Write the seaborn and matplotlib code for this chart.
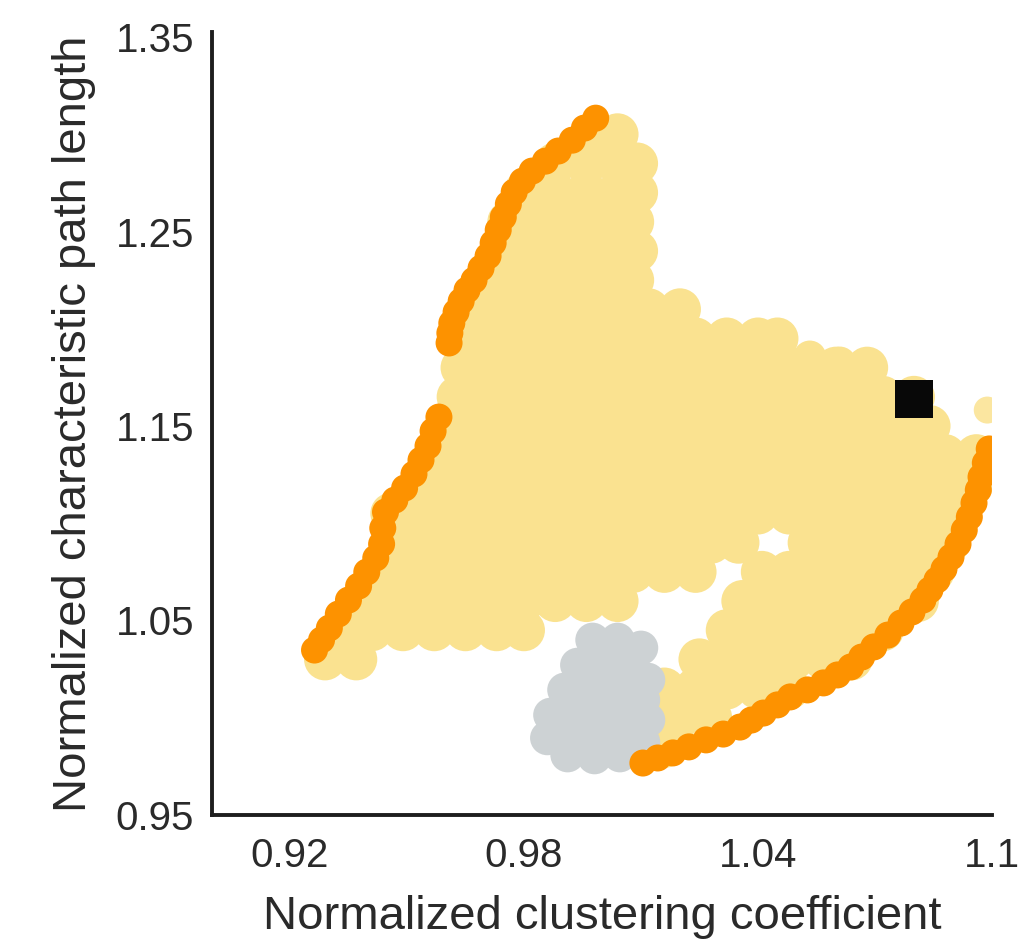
import matplotlib
matplotlib.use("Agg")
import matplotlib.pyplot as plt
import pandas as pd
import seaborn as sns

# ---- parameter-space cloud (normalized clustering coefficient, normalized path length) ----
# each row: path length value -> clustering coefficient values sampled on that row
cloud_rows = {
    0.985: [1.016],
    1.000: [1.020, 1.028],
    1.015: [1.016, 1.024, 1.032, 1.040, 1.048],
    1.030: [0.929, 0.937, 1.025, 1.033, 1.041, 1.049, 1.057, 1.064],
    1.045: [0.933, 0.941, 0.949, 0.957, 0.965, 0.973, 0.980,
            1.032, 1.040, 1.048, 1.056, 1.064, 1.072],
    1.060: [0.940, 0.948, 0.956, 0.964, 0.972, 0.980, 0.988, 0.996, 1.004,
            1.036, 1.044, 1.052, 1.060, 1.068, 1.076, 1.081],
    1.075: [0.944, 0.952, 0.960, 0.968, 0.976, 0.984, 0.992, 1.000, 1.008, 1.016, 1.024,
            1.041, 1.048, 1.056, 1.064, 1.072, 1.080, 1.085],
    1.090: [0.948, 0.956, 0.964, 0.972, 0.980, 0.988, 0.996, 1.004, 1.012, 1.020, 1.028, 1.035,
            1.053, 1.060, 1.068, 1.076, 1.084, 1.089],
    1.105: [0.946, 0.952, 0.960, 0.968, 0.976, 0.984, 0.992, 1.000, 1.008, 1.016, 1.024,
            1.032, 1.040, 1.048, 1.056, 1.064, 1.072, 1.080, 1.088, 1.092],
    1.120: [0.955, 0.964, 0.972, 0.980, 0.988, 0.996, 1.004, 1.012, 1.020, 1.028,
            1.036, 1.044, 1.052, 1.060, 1.068, 1.076, 1.084, 1.092, 1.095],
    1.135: [0.960, 0.968, 0.976, 0.984, 0.992, 1.000, 1.008, 1.016, 1.024,
            1.032, 1.040, 1.048, 1.056, 1.064, 1.072, 1.080, 1.088, 1.096],
    1.150: [0.960, 0.966, 0.972, 0.980, 0.988, 0.996, 1.004, 1.012, 1.020,
            1.028, 1.036, 1.044, 1.052, 1.060, 1.068, 1.076, 1.084],
    1.165: [0.963, 0.970, 0.976, 0.984, 0.992, 1.000, 1.008, 1.016,
            1.024, 1.032, 1.040, 1.048, 1.056, 1.064, 1.072, 1.080],
    1.180: [0.964, 0.972, 0.980, 0.988, 0.996, 1.004, 1.012,
            1.020, 1.028, 1.036, 1.044, 1.052, 1.060, 1.068],
    1.195: [0.968, 0.976, 0.984, 0.992, 1.000, 1.008, 1.016, 1.024, 1.032, 1.040, 1.045],
    1.210: [0.966, 0.972, 0.980, 0.988, 0.996, 1.004, 1.012, 1.020],
    1.225: [0.970, 0.976, 0.984, 0.992, 1.000, 1.008],
    1.240: [0.974, 0.980, 0.988, 0.996, 1.004, 1.009],
    1.255: [0.976, 0.984, 0.992, 1.000, 1.008],
    1.270: [0.980, 0.988, 0.996, 1.004, 1.009],
    1.285: [0.988, 0.996, 1.004, 1.009],
    1.300: [0.998, 1.004],
}

# smaller configurations along the upper edge of the right wing
edge_x = [1.0456, 1.0533, 1.0610, 1.0674]
edge_y = [1.1891, 1.1855, 1.1824, 1.1780]

# isolated light point near the right edge
stray_x = [1.0988]
stray_y = [1.1582]

# boundary (extreme) configurations, three arcs
upper_arc_x = [0.9984, 0.9955, 0.9924, 0.9888, 0.9855, 0.9821, 0.9796, 0.9775, 0.9760, 0.9747, 0.9734,
               0.9721, 0.9708, 0.9690, 0.9672, 0.9654, 0.9639, 0.9626, 0.9615, 0.9610, 0.9608]
upper_arc_y = [1.3083, 1.3032, 1.2970, 1.2914, 1.2862, 1.2811, 1.2759, 1.2703, 1.2641, 1.2574, 1.2508,
               1.2441, 1.2374, 1.2312, 1.2250, 1.2199, 1.2142, 1.2086, 1.2029, 1.1978, 1.1927]

left_arc_x = [0.9582, 0.9567, 0.9554, 0.9536, 0.9518, 0.9494, 0.9469, 0.9445, 0.9438, 0.9435, 0.9420,
              0.9397, 0.9376, 0.9350, 0.9324, 0.9301, 0.9281, 0.9263]
left_arc_y = [1.1546, 1.1474, 1.1397, 1.1325, 1.1253, 1.1181, 1.1119, 1.1058, 1.0975, 1.0893, 1.0821,
              1.0749, 1.0677, 1.0605, 1.0533, 1.0461, 1.0400, 1.0348]

right_arc_x = [1.0993, 1.0983, 1.0972, 1.0965, 1.0954, 1.0942, 1.0929, 1.0913, 1.0895, 1.0877, 1.0859,
               1.0841, 1.0823, 1.0795, 1.0767, 1.0733, 1.0697, 1.0666, 1.0638, 1.0604, 1.0568, 1.0527,
               1.0483, 1.0450, 1.0414, 1.0383, 1.0354, 1.0311, 1.0267, 1.0223, 1.0182, 1.0143, 1.0105]
right_arc_y = [1.1382, 1.1310, 1.1238, 1.1171, 1.1104, 1.1032, 1.0965, 1.0893, 1.0826, 1.0765, 1.0708,
               1.0657, 1.0605, 1.0544, 1.0487, 1.0425, 1.0364, 1.0312, 1.0261, 1.0220, 1.0179, 1.0143,
               1.0107, 1.0066, 1.0024, 0.9988, 0.9952, 0.9916, 0.9886, 0.9850, 0.9819, 0.9793, 0.9767]

# random-network reference cluster
random_x = [0.9976, 1.0040, 1.0100, 0.9937, 1.0002, 1.0066, 1.0118, 0.9904, 0.9971, 1.0035, 1.0105,
            0.9868, 0.9932, 0.9997, 1.0061, 1.0118, 0.9860, 0.9924, 0.9989, 1.0053, 1.0105,
            0.9912, 0.9981, 1.0046]
random_y = [1.0400, 1.0400, 1.0359, 1.0271, 1.0287, 1.0271, 1.0194, 1.0143, 1.0153, 1.0153, 1.0091,
            1.0014, 1.0030, 1.0030, 1.0030, 0.9988, 0.9896, 0.9901, 0.9901, 0.9901, 0.9875,
            0.9808, 0.9798, 0.9808]

# empirical network
empirical_x = [1.080]
empirical_y = [1.1639]

x_ticks = [0.92, 0.98, 1.04, 1.10]
x_tick_labels = ["0.92", "0.98", "1.04", "1.1"]
y_ticks = [0.95, 1.05, 1.15, 1.25, 1.35]
y_tick_labels = ["0.95", "1.05", "1.15", "1.25", "1.35"]

# ---- tables ----
cloud = pd.DataFrame(
    [(x, y) for y, xs in cloud_rows.items() for x in xs], columns=["C", "L"]
)
edge = pd.DataFrame({"C": edge_x, "L": edge_y})
stray = pd.DataFrame({"C": stray_x, "L": stray_y})
boundary = pd.DataFrame({
    "C": upper_arc_x + left_arc_x + right_arc_x,
    "L": upper_arc_y + left_arc_y + right_arc_y,
})
random_nets = pd.DataFrame({"C": random_x, "L": random_y})
empirical = pd.DataFrame({"C": empirical_x, "L": empirical_y})

# ---- style ----
sns.set_style("ticks")
plt.rcParams["font.family"] = ["Liberation Sans", "DejaVu Sans"]
text_color = "#2a2a2a"

fig = plt.figure(figsize=(10.2, 9.39), dpi=100)
ax = fig.add_axes([0.2078, 0.1321, 0.7647, 0.8338])

yellow = "#FAE290"
orange = "#FD9200"
grey = "#CDD2D4"

common = dict(ax=ax, edgecolor="none", linewidth=0, legend=False)
sns.scatterplot(data=cloud, x="C", y="L", color=yellow, s=915, zorder=2, **common)
sns.scatterplot(data=edge, x="C", y="L", color=yellow, s=560, zorder=2, **common)
sns.scatterplot(data=stray, x="C", y="L", color="#FBE6A0", s=378, zorder=2, **common)
sns.scatterplot(data=random_nets, x="C", y="L", color=grey, s=620, zorder=3, **common)
sns.scatterplot(data=boundary, x="C", y="L", color=orange, s=378, zorder=4, **common)
sns.scatterplot(data=empirical, x="C", y="L", color="#080808", s=784, marker="s",
                zorder=5, **common)

ax.set_xlim(0.90, 1.10)
ax.set_ylim(0.95, 1.3526)
ax.set_xticks(x_ticks)
ax.set_xticklabels(x_tick_labels)
ax.set_yticks(y_ticks)
ax.set_yticklabels(y_tick_labels)

for side in ("top", "right"):
    ax.spines[side].set_visible(False)
for side in ("left", "bottom"):
    ax.spines[side].set_linewidth(2.8)
    ax.spines[side].set_color("#1e1e1e")
    ax.spines[side].set_capstyle("projecting")

ax.tick_params(axis="both", length=0, labelsize=29, colors=text_color)
ax.tick_params(axis="x", pad=16)
ax.tick_params(axis="y", pad=13)

ax.set_xlabel("Normalized clustering coefficient", fontsize=34, color=text_color, labelpad=14)
ax.set_ylabel("Normalized characteristic path length", fontsize=34, color=text_color, labelpad=14)

fig.savefig("out.png", dpi=100, facecolor="white")
